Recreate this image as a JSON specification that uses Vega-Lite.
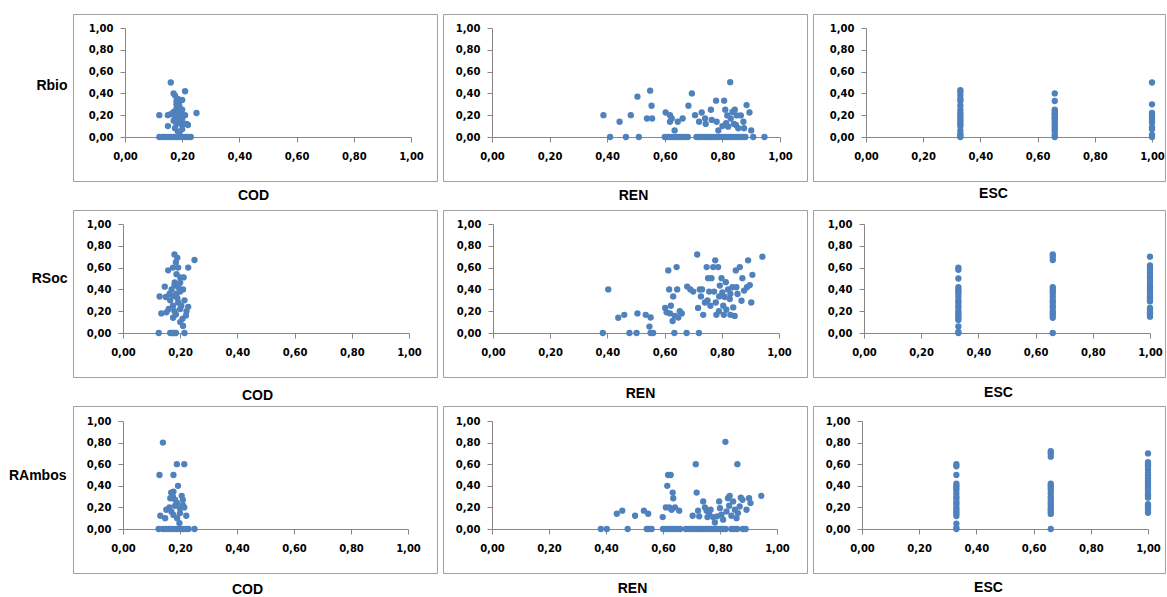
{
"$schema":"https://vega.github.io/schema/vega-lite/v6.json",
"background":"white",
"padding":{"left":7,"top":13,"right":0,"bottom":0},
"datasets":{
"bio_cod":[{"x":0.12,"y":0},{"x":0.13,"y":0},{"x":0.14,"y":0},{"x":0.15,"y":0},{"x":0.16,"y":0},{"x":0.17,"y":0},{"x":0.18,"y":0},{"x":0.19,"y":0},{"x":0.2,"y":0},{"x":0.21,"y":0},{"x":0.22,"y":0},{"x":0.23,"y":0},{"x":0.16,"y":0.5},{"x":0.21,"y":0.42},{"x":0.17,"y":0.4},{"x":0.175,"y":0.38},{"x":0.185,"y":0.35},{"x":0.2,"y":0.34},{"x":0.19,"y":0.32},{"x":0.18,"y":0.3},{"x":0.19,"y":0.28},{"x":0.18,"y":0.26},{"x":0.2,"y":0.25},{"x":0.17,"y":0.23},{"x":0.185,"y":0.22},{"x":0.25,"y":0.22},{"x":0.12,"y":0.2},{"x":0.15,"y":0.2},{"x":0.16,"y":0.21},{"x":0.21,"y":0.2},{"x":0.19,"y":0.18},{"x":0.2,"y":0.16},{"x":0.17,"y":0.15},{"x":0.19,"y":0.14},{"x":0.18,"y":0.12},{"x":0.215,"y":0.12},{"x":0.2,"y":0.11},{"x":0.22,"y":0.11},{"x":0.15,"y":0.1},{"x":0.175,"y":0.08},{"x":0.2,"y":0.07},{"x":0.185,"y":0.05},{"x":0.19,"y":0.03},{"x":0.175,"y":0.18},{"x":0.195,"y":0.22},{"x":0.18,"y":0.33}],
"bio_ren":[{"x":0.41,"y":0},{"x":0.465,"y":0},{"x":0.51,"y":0},{"x":0.6,"y":0},{"x":0.61,"y":0},{"x":0.62,"y":0},{"x":0.63,"y":0},{"x":0.64,"y":0},{"x":0.65,"y":0},{"x":0.66,"y":0},{"x":0.67,"y":0},{"x":0.68,"y":0},{"x":0.71,"y":0},{"x":0.72,"y":0},{"x":0.73,"y":0},{"x":0.74,"y":0},{"x":0.75,"y":0},{"x":0.76,"y":0},{"x":0.77,"y":0},{"x":0.78,"y":0},{"x":0.79,"y":0},{"x":0.8,"y":0},{"x":0.81,"y":0},{"x":0.82,"y":0},{"x":0.83,"y":0},{"x":0.84,"y":0},{"x":0.85,"y":0},{"x":0.86,"y":0},{"x":0.87,"y":0},{"x":0.88,"y":0},{"x":0.907,"y":0},{"x":0.946,"y":0},{"x":0.387,"y":0.2},{"x":0.443,"y":0.14},{"x":0.482,"y":0.2},{"x":0.505,"y":0.37},{"x":0.538,"y":0.17},{"x":0.556,"y":0.17},{"x":0.549,"y":0.425},{"x":0.554,"y":0.287},{"x":0.603,"y":0.225},{"x":0.618,"y":0.2},{"x":0.618,"y":0.14},{"x":0.624,"y":0.17},{"x":0.634,"y":0.06},{"x":0.645,"y":0.14},{"x":0.662,"y":0.17},{"x":0.682,"y":0.287},{"x":0.694,"y":0.4},{"x":0.705,"y":0.2},{"x":0.719,"y":0.14},{"x":0.728,"y":0.225},{"x":0.74,"y":0.17},{"x":0.742,"y":0.12},{"x":0.76,"y":0.25},{"x":0.763,"y":0.157},{"x":0.778,"y":0.333},{"x":0.78,"y":0.14},{"x":0.786,"y":0.06},{"x":0.806,"y":0.333},{"x":0.81,"y":0.25},{"x":0.813,"y":0.127},{"x":0.817,"y":0.198},{"x":0.82,"y":0.095},{"x":0.827,"y":0.503},{"x":0.829,"y":0.17},{"x":0.843,"y":0.25},{"x":0.847,"y":0.11},{"x":0.85,"y":0.198},{"x":0.855,"y":0.08},{"x":0.864,"y":0.198},{"x":0.873,"y":0.14},{"x":0.875,"y":0.08},{"x":0.884,"y":0.293},{"x":0.894,"y":0.225},{"x":0.9,"y":0.06},{"x":0.835,"y":0.23},{"x":0.8,"y":0.1},{"x":0.84,"y":0.12}],
"bio_esc":[{"x":0.33,"y":0.43},{"x":0.33,"y":0.41},{"x":0.33,"y":0.38},{"x":0.33,"y":0.35},{"x":0.33,"y":0.33},{"x":0.33,"y":0.29},{"x":0.33,"y":0.25},{"x":0.33,"y":0.22},{"x":0.33,"y":0.2},{"x":0.33,"y":0.18},{"x":0.33,"y":0.16},{"x":0.33,"y":0.14},{"x":0.33,"y":0.12},{"x":0.33,"y":0.1},{"x":0.33,"y":0.06},{"x":0.33,"y":0.03},{"x":0.33,"y":0.01},{"x":0.33,"y":0},{"x":0.66,"y":0.4},{"x":0.66,"y":0.33},{"x":0.66,"y":0.25},{"x":0.66,"y":0.24},{"x":0.66,"y":0.22},{"x":0.66,"y":0.21},{"x":0.66,"y":0.2},{"x":0.66,"y":0.18},{"x":0.66,"y":0.17},{"x":0.66,"y":0.15},{"x":0.66,"y":0.13},{"x":0.66,"y":0.11},{"x":0.66,"y":0.09},{"x":0.66,"y":0.07},{"x":0.66,"y":0.05},{"x":0.66,"y":0.02},{"x":0.66,"y":0},{"x":1,"y":0.5},{"x":1,"y":0.3},{"x":1,"y":0.22},{"x":1,"y":0.2},{"x":1,"y":0.17},{"x":1,"y":0.15},{"x":1,"y":0.13},{"x":1,"y":0.09},{"x":1,"y":0.07},{"x":1,"y":0.02},{"x":1,"y":0}],
"soc_cod":[{"x":0.125,"y":0},{"x":0.165,"y":0},{"x":0.17,"y":0},{"x":0.175,"y":0},{"x":0.18,"y":0},{"x":0.185,"y":0},{"x":0.215,"y":0},{"x":0.21,"y":0.065},{"x":0.2,"y":0.1},{"x":0.18,"y":0.72},{"x":0.19,"y":0.69},{"x":0.185,"y":0.65},{"x":0.25,"y":0.67},{"x":0.158,"y":0.575},{"x":0.175,"y":0.6},{"x":0.193,"y":0.6},{"x":0.228,"y":0.6},{"x":0.187,"y":0.54},{"x":0.2,"y":0.51},{"x":0.212,"y":0.51},{"x":0.146,"y":0.425},{"x":0.128,"y":0.335},{"x":0.163,"y":0.36},{"x":0.193,"y":0.42},{"x":0.21,"y":0.4},{"x":0.181,"y":0.465},{"x":0.134,"y":0.18},{"x":0.152,"y":0.19},{"x":0.175,"y":0.14},{"x":0.193,"y":0.28},{"x":0.204,"y":0.25},{"x":0.222,"y":0.2},{"x":0.228,"y":0.24},{"x":0.208,"y":0.13},{"x":0.175,"y":0.25},{"x":0.187,"y":0.36},{"x":0.18,"y":0.2},{"x":0.165,"y":0.3},{"x":0.17,"y":0.4},{"x":0.2,"y":0.38},{"x":0.19,"y":0.32},{"x":0.175,"y":0.34},{"x":0.215,"y":0.3},{"x":0.2,"y":0.22},{"x":0.185,"y":0.17},{"x":0.16,"y":0.22},{"x":0.22,"y":0.16},{"x":0.18,"y":0.44},{"x":0.15,"y":0.33},{"x":0.2,"y":0.46}],
"soc_ren":[{"x":0.384,"y":0},{"x":0.403,"y":0.4},{"x":0.438,"y":0.14},{"x":0.459,"y":0.167},{"x":0.477,"y":0},{"x":0.502,"y":0},{"x":0.505,"y":0.18},{"x":0.534,"y":0.167},{"x":0.547,"y":0.059},{"x":0.551,"y":0.142},{"x":0.551,"y":0},{"x":0.56,"y":0},{"x":0.602,"y":0.23},{"x":0.607,"y":0.19},{"x":0.613,"y":0.574},{"x":0.616,"y":0.4},{"x":0.619,"y":0.18},{"x":0.622,"y":0.25},{"x":0.628,"y":0.11},{"x":0.63,"y":0.336},{"x":0.634,"y":0},{"x":0.636,"y":0.157},{"x":0.642,"y":0.605},{"x":0.644,"y":0.4},{"x":0.648,"y":0.142},{"x":0.653,"y":0.2},{"x":0.66,"y":0.18},{"x":0.677,"y":0},{"x":0.679,"y":0.426},{"x":0.69,"y":0.4},{"x":0.7,"y":0.38},{"x":0.714,"y":0.72},{"x":0.717,"y":0.23},{"x":0.72,"y":0},{"x":0.723,"y":0.4},{"x":0.727,"y":0.336},{"x":0.731,"y":0.4},{"x":0.735,"y":0.167},{"x":0.741,"y":0.28},{"x":0.747,"y":0.605},{"x":0.752,"y":0.503},{"x":0.756,"y":0.38},{"x":0.76,"y":0.25},{"x":0.764,"y":0.503},{"x":0.77,"y":0.605},{"x":0.773,"y":0.38},{"x":0.777,"y":0.667},{"x":0.779,"y":0.28},{"x":0.781,"y":0.167},{"x":0.787,"y":0.605},{"x":0.791,"y":0.336},{"x":0.793,"y":0.435},{"x":0.799,"y":0.503},{"x":0.802,"y":0.373},{"x":0.805,"y":0.25},{"x":0.807,"y":0.167},{"x":0.814,"y":0.466},{"x":0.816,"y":0.213},{"x":0.822,"y":0.4},{"x":0.828,"y":0.312},{"x":0.83,"y":0.167},{"x":0.837,"y":0.42},{"x":0.84,"y":0.235},{"x":0.845,"y":0.157},{"x":0.849,"y":0.574},{"x":0.851,"y":0.42},{"x":0.855,"y":0.358},{"x":0.863,"y":0.605},{"x":0.869,"y":0.296},{"x":0.872,"y":0.503},{"x":0.878,"y":0.389},{"x":0.888,"y":0.42},{"x":0.892,"y":0.667},{"x":0.898,"y":0.44},{"x":0.903,"y":0.28},{"x":0.907,"y":0.534},{"x":0.942,"y":0.7},{"x":0.81,"y":0.33},{"x":0.79,"y":0.2},{"x":0.83,"y":0.36},{"x":0.75,"y":0.3}],
"soc_esc":[{"x":0.33,"y":0.6},{"x":0.33,"y":0.58},{"x":0.33,"y":0.5},{"x":0.33,"y":0.42},{"x":0.33,"y":0.4},{"x":0.33,"y":0.38},{"x":0.33,"y":0.36},{"x":0.33,"y":0.33},{"x":0.33,"y":0.3},{"x":0.33,"y":0.28},{"x":0.33,"y":0.25},{"x":0.33,"y":0.23},{"x":0.33,"y":0.2},{"x":0.33,"y":0.18},{"x":0.33,"y":0.16},{"x":0.33,"y":0.14},{"x":0.33,"y":0.12},{"x":0.33,"y":0.06},{"x":0.33,"y":0.01},{"x":0.33,"y":0},{"x":0.66,"y":0.72},{"x":0.66,"y":0.7},{"x":0.66,"y":0.67},{"x":0.66,"y":0.42},{"x":0.66,"y":0.4},{"x":0.66,"y":0.38},{"x":0.66,"y":0.36},{"x":0.66,"y":0.33},{"x":0.66,"y":0.3},{"x":0.66,"y":0.28},{"x":0.66,"y":0.25},{"x":0.66,"y":0.23},{"x":0.66,"y":0.2},{"x":0.66,"y":0.18},{"x":0.66,"y":0.16},{"x":0.66,"y":0.14},{"x":0.66,"y":0},{"x":1,"y":0.7},{"x":1,"y":0.62},{"x":1,"y":0.6},{"x":1,"y":0.58},{"x":1,"y":0.55},{"x":1,"y":0.52},{"x":1,"y":0.5},{"x":1,"y":0.47},{"x":1,"y":0.44},{"x":1,"y":0.42},{"x":1,"y":0.4},{"x":1,"y":0.38},{"x":1,"y":0.36},{"x":1,"y":0.33},{"x":1,"y":0.31},{"x":1,"y":0.29},{"x":1,"y":0.23},{"x":1,"y":0.21},{"x":1,"y":0.19},{"x":1,"y":0.17},{"x":1,"y":0.15}],
"amb_cod":[{"x":0.125,"y":0},{"x":0.14,"y":0},{"x":0.15,"y":0},{"x":0.16,"y":0},{"x":0.17,"y":0},{"x":0.18,"y":0},{"x":0.19,"y":0},{"x":0.2,"y":0},{"x":0.21,"y":0},{"x":0.22,"y":0},{"x":0.23,"y":0},{"x":0.251,"y":0},{"x":0.14,"y":0.8},{"x":0.128,"y":0.5},{"x":0.177,"y":0.5},{"x":0.189,"y":0.6},{"x":0.215,"y":0.6},{"x":0.193,"y":0.4},{"x":0.169,"y":0.337},{"x":0.177,"y":0.346},{"x":0.206,"y":0.307},{"x":0.166,"y":0.285},{"x":0.183,"y":0.27},{"x":0.21,"y":0.27},{"x":0.131,"y":0.123},{"x":0.152,"y":0.178},{"x":0.163,"y":0.2},{"x":0.183,"y":0.215},{"x":0.215,"y":0.2},{"x":0.148,"y":0.1},{"x":0.2,"y":0.147},{"x":0.222,"y":0.123},{"x":0.198,"y":0.055},{"x":0.177,"y":0.13},{"x":0.19,"y":0.24},{"x":0.17,"y":0.16},{"x":0.2,"y":0.19},{"x":0.19,"y":0.1},{"x":0.21,"y":0.22},{"x":0.175,"y":0.3}],
"amb_ren":[{"x":0.382,"y":0},{"x":0.403,"y":0},{"x":0.476,"y":0},{"x":0.543,"y":0},{"x":0.55,"y":0},{"x":0.56,"y":0},{"x":0.6,"y":0},{"x":0.61,"y":0},{"x":0.62,"y":0},{"x":0.63,"y":0},{"x":0.64,"y":0},{"x":0.65,"y":0},{"x":0.66,"y":0},{"x":0.68,"y":0},{"x":0.69,"y":0},{"x":0.7,"y":0},{"x":0.71,"y":0},{"x":0.72,"y":0},{"x":0.73,"y":0},{"x":0.74,"y":0},{"x":0.75,"y":0},{"x":0.76,"y":0},{"x":0.77,"y":0},{"x":0.78,"y":0},{"x":0.79,"y":0},{"x":0.8,"y":0},{"x":0.81,"y":0},{"x":0.82,"y":0},{"x":0.84,"y":0},{"x":0.85,"y":0},{"x":0.86,"y":0},{"x":0.88,"y":0},{"x":0.89,"y":0},{"x":0.438,"y":0.141},{"x":0.457,"y":0.17},{"x":0.502,"y":0.123},{"x":0.533,"y":0.17},{"x":0.548,"y":0.141},{"x":0.599,"y":0.11},{"x":0.615,"y":0.4},{"x":0.618,"y":0.5},{"x":0.627,"y":0.5},{"x":0.61,"y":0.2},{"x":0.622,"y":0.2},{"x":0.63,"y":0.178},{"x":0.634,"y":0.337},{"x":0.636,"y":0.285},{"x":0.642,"y":0.2},{"x":0.657,"y":0.17},{"x":0.704,"y":0.123},{"x":0.715,"y":0.6},{"x":0.718,"y":0.337},{"x":0.723,"y":0.17},{"x":0.727,"y":0.117},{"x":0.741,"y":0.255},{"x":0.747,"y":0.2},{"x":0.753,"y":0.17},{"x":0.756,"y":0.11},{"x":0.762,"y":0.147},{"x":0.767,"y":0.178},{"x":0.776,"y":0.11},{"x":0.782,"y":0.06},{"x":0.79,"y":0.117},{"x":0.797,"y":0.255},{"x":0.8,"y":0.193},{"x":0.805,"y":0.132},{"x":0.811,"y":0.086},{"x":0.819,"y":0.807},{"x":0.823,"y":0.163},{"x":0.828,"y":0.285},{"x":0.832,"y":0.215},{"x":0.834,"y":0.307},{"x":0.84,"y":0.123},{"x":0.846,"y":0.255},{"x":0.852,"y":0.178},{"x":0.858,"y":0.1},{"x":0.861,"y":0.6},{"x":0.863,"y":0.147},{"x":0.869,"y":0.208},{"x":0.873,"y":0.29},{"x":0.879,"y":0.27},{"x":0.893,"y":0.178},{"x":0.902,"y":0.285},{"x":0.907,"y":0.24},{"x":0.945,"y":0.307}],
"amb_esc":[{"x":0.33,"y":0.6},{"x":0.33,"y":0.58},{"x":0.33,"y":0.5},{"x":0.33,"y":0.42},{"x":0.33,"y":0.4},{"x":0.33,"y":0.38},{"x":0.33,"y":0.36},{"x":0.33,"y":0.33},{"x":0.33,"y":0.3},{"x":0.33,"y":0.28},{"x":0.33,"y":0.25},{"x":0.33,"y":0.23},{"x":0.33,"y":0.2},{"x":0.33,"y":0.18},{"x":0.33,"y":0.16},{"x":0.33,"y":0.14},{"x":0.33,"y":0.12},{"x":0.33,"y":0.05},{"x":0.33,"y":0.01},{"x":0.33,"y":0},{"x":0.66,"y":0.72},{"x":0.66,"y":0.7},{"x":0.66,"y":0.67},{"x":0.66,"y":0.42},{"x":0.66,"y":0.4},{"x":0.66,"y":0.38},{"x":0.66,"y":0.36},{"x":0.66,"y":0.33},{"x":0.66,"y":0.3},{"x":0.66,"y":0.28},{"x":0.66,"y":0.25},{"x":0.66,"y":0.23},{"x":0.66,"y":0.2},{"x":0.66,"y":0.18},{"x":0.66,"y":0.16},{"x":0.66,"y":0.14},{"x":0.66,"y":0},{"x":1,"y":0.7},{"x":1,"y":0.62},{"x":1,"y":0.6},{"x":1,"y":0.58},{"x":1,"y":0.55},{"x":1,"y":0.52},{"x":1,"y":0.5},{"x":1,"y":0.47},{"x":1,"y":0.44},{"x":1,"y":0.42},{"x":1,"y":0.4},{"x":1,"y":0.38},{"x":1,"y":0.36},{"x":1,"y":0.33},{"x":1,"y":0.31},{"x":1,"y":0.29},{"x":1,"y":0.23},{"x":1,"y":0.21},{"x":1,"y":0.19},{"x":1,"y":0.17},{"x":1,"y":0.15}]
},
"columns":3,
"bounds":"flush",
"align":"each",
"spacing":{"row":29,"column":6},
"concat":[
{"width":364,"height":167,"data":{"name":"bio_cod"},"mark":{"type":"circle","size":40,"color":"#4F81BD","opacity":1},
"encoding":{"x":{"field":"x","type":"quantitative","scale":{"domain":[0,1],"range":[52,338]},"axis":{"title":"COD","values":[0,0.2,0.4,0.6,0.8,1],"offset":-44,"titleX":180,"titleY":58}},
"y":{"field":"y","type":"quantitative","scale":{"domain":[0,1],"range":[123,14]},"axis":{"title":"Rbio","values":[0,0.2,0.4,0.6,0.8,1],"offset":-52,"titleX":-58,"titleY":71,"titleAngle":0,"titleAlign":"right","titleBaseline":"middle"}}}},
{"width":364,"height":167,"data":{"name":"bio_ren"},"mark":{"type":"circle","size":40,"color":"#4F81BD","opacity":1},
"encoding":{"x":{"field":"x","type":"quantitative","scale":{"domain":[0,1],"range":[49,337]},"axis":{"title":"REN","values":[0,0.2,0.4,0.6,0.8,1],"offset":-44,"titleX":190,"titleY":58}},
"y":{"field":"y","type":"quantitative","scale":{"domain":[0,1],"range":[123,14]},"axis":{"title":null,"values":[0,0.2,0.4,0.6,0.8,1],"offset":-49}}}},
{"width":352,"height":167,"data":{"name":"bio_esc"},"mark":{"type":"circle","size":40,"color":"#4F81BD","opacity":1},
"encoding":{"x":{"field":"x","type":"quantitative","scale":{"domain":[0,1],"range":[53,339]},"axis":{"title":"ESC","values":[0,0.2,0.4,0.6,0.8,1],"offset":-44,"titleX":180,"titleY":56}},
"y":{"field":"y","type":"quantitative","scale":{"domain":[0,1],"range":[123,14]},"axis":{"title":null,"values":[0,0.2,0.4,0.6,0.8,1],"offset":-53}}}},
{"width":364,"height":167,"data":{"name":"soc_cod"},"mark":{"type":"circle","size":40,"color":"#4F81BD","opacity":1},
"encoding":{"x":{"field":"x","type":"quantitative","scale":{"domain":[0,1],"range":[50,336]},"axis":{"title":"COD","values":[0,0.2,0.4,0.6,0.8,1],"offset":-44,"titleX":184,"titleY":62}},
"y":{"field":"y","type":"quantitative","scale":{"domain":[0,1],"range":[123,14]},"axis":{"title":"RSoc","values":[0,0.2,0.4,0.6,0.8,1],"offset":-50,"titleX":-56,"titleY":68,"titleAngle":0,"titleAlign":"right","titleBaseline":"middle"}}}},
{"width":364,"height":167,"data":{"name":"soc_ren"},"mark":{"type":"circle","size":40,"color":"#4F81BD","opacity":1},
"encoding":{"x":{"field":"x","type":"quantitative","scale":{"domain":[0,1],"range":[50,336]},"axis":{"title":"REN","values":[0,0.2,0.4,0.6,0.8,1],"offset":-44,"titleX":197,"titleY":60}},
"y":{"field":"y","type":"quantitative","scale":{"domain":[0,1],"range":[123,14]},"axis":{"title":null,"values":[0,0.2,0.4,0.6,0.8,1],"offset":-50}}}},
{"width":352,"height":167,"data":{"name":"soc_esc"},"mark":{"type":"circle","size":40,"color":"#4F81BD","opacity":1},
"encoding":{"x":{"field":"x","type":"quantitative","scale":{"domain":[0,1],"range":[51,337]},"axis":{"title":"ESC","values":[0,0.2,0.4,0.6,0.8,1],"offset":-44,"titleX":185,"titleY":59}},
"y":{"field":"y","type":"quantitative","scale":{"domain":[0,1],"range":[123,14]},"axis":{"title":null,"values":[0,0.2,0.4,0.6,0.8,1],"offset":-51}}}},
{"width":364,"height":167,"data":{"name":"amb_cod"},"mark":{"type":"circle","size":40,"color":"#4F81BD","opacity":1},
"encoding":{"x":{"field":"x","type":"quantitative","scale":{"domain":[0,1],"range":[50,335]},"axis":{"title":"COD","values":[0,0.2,0.4,0.6,0.8,1],"offset":-44,"titleX":174,"titleY":60}},
"y":{"field":"y","type":"quantitative","scale":{"domain":[0,1],"range":[123,15]},"axis":{"title":"RAmbos","values":[0,0.2,0.4,0.6,0.8,1],"offset":-50,"titleX":-57,"titleY":69,"titleAngle":0,"titleAlign":"right","titleBaseline":"middle"}}}},
{"width":364,"height":167,"data":{"name":"amb_ren"},"mark":{"type":"circle","size":40,"color":"#4F81BD","opacity":1},
"encoding":{"x":{"field":"x","type":"quantitative","scale":{"domain":[0,1],"range":[49,334]},"axis":{"title":"REN","values":[0,0.2,0.4,0.6,0.8,1],"offset":-44,"titleX":189,"titleY":59}},
"y":{"field":"y","type":"quantitative","scale":{"domain":[0,1],"range":[123,15]},"axis":{"title":null,"values":[0,0.2,0.4,0.6,0.8,1],"offset":-49}}}},
{"width":352,"height":167,"data":{"name":"amb_esc"},"mark":{"type":"circle","size":40,"color":"#4F81BD","opacity":1},
"encoding":{"x":{"field":"x","type":"quantitative","scale":{"domain":[0,1],"range":[49,335]},"axis":{"title":"ESC","values":[0,0.2,0.4,0.6,0.8,1],"offset":-44,"titleX":175,"titleY":58}},
"y":{"field":"y","type":"quantitative","scale":{"domain":[0,1],"range":[123,15]},"axis":{"title":null,"values":[0,0.2,0.4,0.6,0.8,1],"offset":-49}}}}
],
"config":{
"view":{"stroke":"#a0a0a0","strokeWidth":1},
"axis":{"grid":false,"domainColor":"#868686","tickColor":"#868686","tickSize":5,"labelFont":"DejaVu Sans","labelFontSize":10,"labelFontWeight":"bold","labelColor":"#000000","labelFlush":false,"labelOverlap":false,"labelExpr":"replace(format(datum.value, '.2f'), '.', ',')","titleFont":"Liberation Sans","titleFontSize":14,"titleFontWeight":"bold","titleColor":"#000000"},
"axisX":{"labelPadding":9,"titleAlign":"center","titleBaseline":"middle","titleAngle":0},
"axisY":{"labelPadding":7}
}
}
